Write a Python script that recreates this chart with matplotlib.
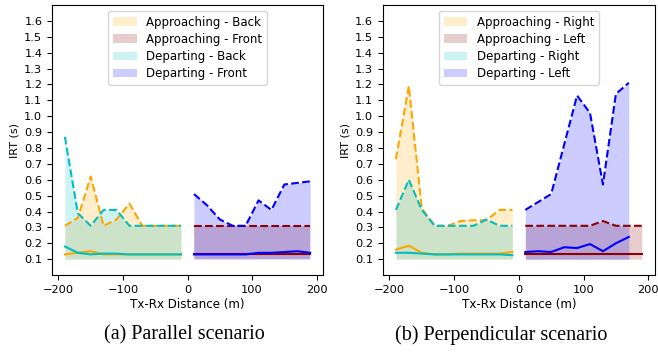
import matplotlib
matplotlib.use("Agg")
import matplotlib.pyplot as plt
from matplotlib.patches import Patch

# ---- data ----
x_neg = [-190, -170, -150, -130, -110, -90, -70, -50, -30, -10]
x_pos = [10, 30, 50, 70, 90, 110, 130, 150, 170, 190]
x_pos_short = [10, 30, 50, 70, 90, 110, 130, 150, 170]
fill_base = 0.1

# (a) Parallel
par_app_back_max = [0.31, 0.36, 0.62, 0.31, 0.35, 0.45, 0.31, 0.31, 0.31, 0.31]
par_app_back_min = [0.13, 0.14, 0.15, 0.13, 0.13, 0.13, 0.13, 0.13, 0.13, 0.13]
par_dep_back_max = [0.87, 0.39, 0.31, 0.41, 0.41, 0.31, 0.31, 0.31, 0.31, 0.31]
par_dep_back_min = [0.18, 0.14, 0.13, 0.135, 0.135, 0.13, 0.13, 0.13, 0.13, 0.13]
par_app_front_max = [0.31, 0.31, 0.31, 0.31, 0.31, 0.31, 0.31, 0.31, 0.31, 0.31]
par_app_front_min = [0.13, 0.13, 0.13, 0.13, 0.13, 0.13, 0.13, 0.13, 0.13, 0.13]
par_dep_front_max = [0.51, 0.44, 0.35, 0.31, 0.31, 0.47, 0.41, 0.57, 0.58, 0.59]
par_dep_front_min = [0.13, 0.13, 0.13, 0.13, 0.13, 0.14, 0.14, 0.145, 0.15, 0.14]

# (b) Perpendicular
per_app_right_max = [0.73, 1.19, 0.42, 0.31, 0.31, 0.34, 0.345, 0.345, 0.41, 0.41]
per_app_right_min = [0.16, 0.185, 0.14, 0.13, 0.13, 0.135, 0.135, 0.135, 0.135, 0.145]
per_dep_right_max = [0.41, 0.60, 0.41, 0.31, 0.31, 0.31, 0.31, 0.35, 0.31, 0.31]
per_dep_right_min = [0.14, 0.14, 0.135, 0.13, 0.13, 0.13, 0.13, 0.13, 0.13, 0.125]
per_app_left_max = [0.31, 0.31, 0.31, 0.31, 0.31, 0.31, 0.34, 0.31, 0.31, 0.31]
per_app_left_min = [0.13, 0.13, 0.13, 0.13, 0.13, 0.13, 0.13, 0.13, 0.13, 0.13]
per_dep_left_max = [0.41, 0.46, 0.51, 0.82, 1.13, 1.02, 0.57, 1.14, 1.21]
per_dep_left_min = [0.145, 0.15, 0.145, 0.175, 0.17, 0.195, 0.15, 0.2, 0.24]

labels_a = ["Approaching - Back", "Approaching - Front", "Departing - Back", "Departing - Front"]
labels_b = ["Approaching - Right", "Approaching - Left", "Departing - Right", "Departing - Left"]
yticks = [0.1, 0.2, 0.3, 0.4, 0.5, 0.6, 0.7, 0.8, 0.9, 1.0, 1.1, 1.2, 1.3, 1.4, 1.5, 1.6]
xticks = [-200, -100, 0, 100, 200]

c_or, c_dr, c_te, c_bl = "orange", "darkred", "c", "blue"
alpha = 0.2

plt.rcParams["font.family"] = "DejaVu Sans"
fig = plt.figure(figsize=(6.58, 3.54), dpi=100)
axA = fig.add_axes([0.079, 0.223, 0.412, 0.763])
axB = fig.add_axes([0.582, 0.223, 0.413, 0.763])


def draw(ax, series, labels):
    for (xs, mx, mn, col) in series:
        ax.fill_between(xs, fill_base, mx, color=col, alpha=alpha, linewidth=0)
        ax.plot(xs, mx, color=col, linestyle="--", linewidth=1.5)
        ax.plot(xs, mn, color=col, linestyle="-", linewidth=1.5)
    handles = [Patch(facecolor=s[3], alpha=alpha) for s in series]
    ax.legend(handles, labels, loc="upper center", fontsize=8.5,
              handlelength=2.0, borderpad=0.4, labelspacing=0.35)
    ax.set_xlim(-210, 210)
    ax.set_ylim(0.0, 1.7)
    ax.set_yticks(yticks)
    ax.set_xticks(xticks)
    ax.tick_params(labelsize=8.2)
    ax.set_xlabel("Tx-Rx Distance (m)", fontsize=8.6, labelpad=2)
    ax.set_ylabel("IRT (s)", fontsize=8, labelpad=3)


draw(axA, [
    (x_neg, par_app_back_max, par_app_back_min, c_or),
    (x_pos, par_app_front_max, par_app_front_min, c_dr),
    (x_neg, par_dep_back_max, par_dep_back_min, c_te),
    (x_pos, par_dep_front_max, par_dep_front_min, c_bl),
], labels_a)

draw(axB, [
    (x_neg, per_app_right_max, per_app_right_min, c_or),
    (x_pos, per_app_left_max, per_app_left_min, c_dr),
    (x_neg, per_dep_right_max, per_dep_right_min, c_te),
    (x_pos_short, per_dep_left_max, per_dep_left_min, c_bl),
], labels_b)

fig.text(0.28, 0.054, "(a) Parallel scenario", ha="center", va="center",
         fontsize=14.5, family="Liberation Serif")
fig.text(0.761, 0.054, "(b) Perpendicular scenario", ha="center", va="center",
         fontsize=14.5, family="Liberation Serif")

fig.savefig("out.png", dpi=100)
